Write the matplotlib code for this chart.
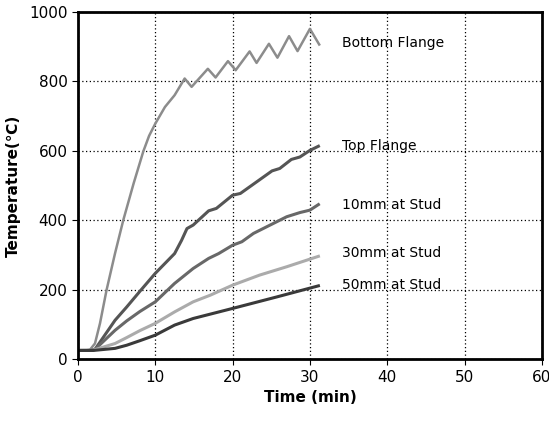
import matplotlib.pyplot as plt

# time (min) / temperature (C)
t_bottom = [0, 1.0, 1.55, 2.2, 2.85, 3.7, 4.8, 5.86, 7.2, 8.45, 9.2, 10.0, 11.25, 12.5, 13.8, 14.7,
            16.8, 17.8, 19.4, 20.4, 22.2, 23.1, 24.7, 25.8, 27.3, 28.4, 30.0, 31.2]
T_bottom = [25, 25, 27, 45, 103, 199, 305, 400, 506, 598, 643, 678, 726, 760, 808, 784,
            836, 811, 858, 832, 886, 853, 908, 868, 930, 887, 951, 906]

t_top = [0, 1.5, 2.2, 4.8, 6.3, 8.0, 10.0, 12.5, 13.4, 14.1, 14.9, 16.9, 17.9, 20.0, 21.0,
         23.4, 25.1, 26.1, 27.6, 28.7, 30.0, 31.1]
T_top = [25, 25, 28, 112, 150, 195, 247, 304, 342, 376, 386, 427, 434, 472, 477,
         515, 542, 549, 575, 582, 601, 613]

t_10 = [0, 1.5, 2.2, 4.8, 6.3, 8.0, 10.0, 12.5, 14.9, 16.9, 18.2, 20.0, 21.2, 22.7, 24.4,
        27.0, 28.7, 30.0, 31.1]
T_10 = [25, 25, 28, 83, 110, 137, 165, 218, 261, 290, 304, 328, 338, 362, 381,
        410, 422, 429, 445]

t_30 = [0, 2.0, 4.8, 6.3, 8.0, 10.0, 12.5, 14.9, 17.1, 20.0, 23.5, 27.0, 31.1]
T_30 = [25, 26, 45, 62, 82, 103, 136, 165, 184, 213, 242, 266, 296]

t_50 = [0, 2.0, 4.8, 6.3, 8.0, 10.0, 12.5, 14.9, 20.0, 25.7, 31.1]
T_50 = [25, 25, 31, 40, 53, 69, 98, 117, 146, 179, 211]

labels = ["Bottom Flange", "Top Flange", "10mm at Stud", "30mm at Stud", "50mm at Stud"]
label_y = [909, 613, 443, 305, 213]

fig = plt.figure(figsize=(5.49, 4.23), dpi=100)
ax = fig.add_axes([0.142, 0.151, 0.845, 0.821])

ax.plot(t_bottom, T_bottom, color="#8c8c8c", lw=1.8)
ax.plot(t_top, T_top, color="#555555", lw=2.2)
ax.plot(t_10, T_10, color="#686868", lw=2.2)
ax.plot(t_30, T_30, color="#ababab", lw=2.2)
ax.plot(t_50, T_50, color="#3a3a3a", lw=2.2)

for lab, y in zip(labels, label_y):
    ax.text(34.2, y, lab, fontsize=10, va="center", ha="left",
            family=["Liberation Sans Narrow", "DejaVu Sans"])

ax.set_xlim(0, 60)
ax.set_ylim(0, 1000)
ax.set_xticks(range(0, 61, 10))
ax.set_yticks(range(0, 1001, 200))
ax.grid(True, color="black", linestyle=(0, (1, 2)), linewidth=0.9)
for s in ax.spines.values():
    s.set_linewidth(2)
ax.tick_params(labelsize=11, length=4, width=0.8)

ax.set_xlabel("Time (min)", fontsize=11, fontweight="bold")
ax.set_ylabel("Temperature(\u2103)", fontsize=11, fontweight="bold", labelpad=6)

fig.savefig("out.png", dpi=100)
